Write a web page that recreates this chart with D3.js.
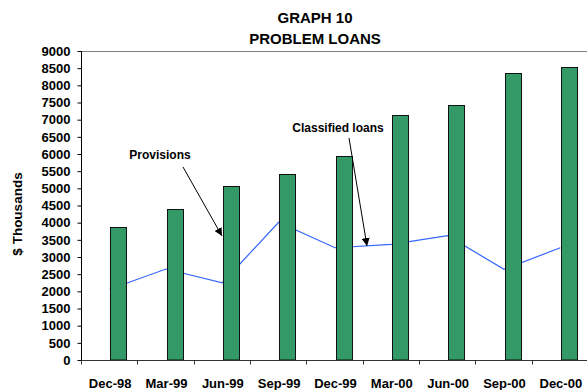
<!DOCTYPE html>
<html>
<head>
<meta charset="utf-8">
<script src="https://cdn.jsdelivr.net/npm/d3@7/dist/d3.min.js"></script>
<style>
  html, body { margin: 0; padding: 0; background: #fff; }
  svg { display: block; }
  text { font-family: "Liberation Sans", Arial, sans-serif; font-weight: bold; fill: #000; }
</style>
</head>
<body>
<svg id="chart" width="587" height="390"></svg>
<script>
// Quarter-end reporting dates
const quarters = ["Dec-98", "Mar-99", "Jun-99", "Sep-99", "Dec-99", "Mar-00", "Jun-00", "Sep-00", "Dec-00"];
// Classified loans ($ thousands) - columns
const classifiedLoans = [3880, 4400, 5070, 5430, 5950, 7130, 7440, 8350, 8540];
// Provisions ($ thousands) - line
const provisions = [2060, 2650, 2250, 4010, 3270, 3370, 3620, 2640, 3270];
// Value axis ticks
const yTicks = d3.range(0, 9001, 500);

const svg = d3.select("#chart");
const plot = { left: 82, right: 589, top: 51, bottom: 360 };

const x = d3.scaleBand().domain(quarters).range([plot.left, plot.right]);
const y = d3.scaleLinear().domain([0, 9000]).range([plot.bottom, plot.top]);
const bw = x.bandwidth();
const barOffset = bw * 0.5;
const barWidth = bw * 0.29;

// Title
const title = svg.append("text")
  .attr("x", 315).attr("text-anchor", "middle")
  .style("font-size", "15px");
title.append("tspan").attr("x", 315).attr("y", 23).text("GRAPH 10");
title.append("tspan").attr("x", 315).attr("y", 44).text("PROBLEM LOANS");

// Plot-area frame (top and right edges)
svg.append("path")
  .attr("d", `M${plot.left},${plot.top + 0.5}H${plot.right - 0.5}V${plot.bottom}`)
  .attr("fill", "none").attr("stroke", "#808080").attr("stroke-width", 1);

// Provisions line, drawn beneath the columns
const line = d3.line()
  .x(d => x(d.q) + barOffset - 0.5)
  .y(d => y(d.v));
svg.append("path")
  .datum(quarters.map((q, i) => ({ q, v: provisions[i] })))
  .attr("d", line)
  .attr("fill", "none")
  .attr("stroke", "#3366FF")
  .attr("stroke-width", 1.2);

// Classified loans columns
svg.append("g").selectAll("rect")
  .data(quarters.map((q, i) => ({ q, v: classifiedLoans[i] })))
  .join("rect")
  .attr("x", d => Math.round(x(d.q) + barOffset) + 0.5)
  .attr("y", d => Math.round(y(d.v)) + 0.5)
  .attr("width", Math.round(barWidth))
  .attr("height", d => plot.bottom - Math.round(y(d.v)) - 0.5)
  .attr("fill", "#339966")
  .attr("stroke", "#111")
  .attr("stroke-width", 1);

// Value axis
const yAxis = svg.append("g")
  .attr("transform", `translate(${plot.left - 0.5},0)`)
  .call(d3.axisLeft(y).tickValues(yTicks).tickFormat(d3.format("d")).tickSize(4).tickPadding(7));
yAxis.select(".domain").attr("stroke", "#000").attr("d", `M0,${plot.top}V${plot.bottom}`);
yAxis.selectAll(".tick line").attr("stroke", "#000");
yAxis.selectAll("text").style("font-size", "13px").attr("fill", "#000");

// Category axis: ticks at category boundaries, labels centred in each category
const xAxisG = svg.append("g").attr("transform", `translate(0,${plot.bottom + 0.5})`);
xAxisG.append("line")
  .attr("x1", plot.left - 1).attr("x2", plot.right)
  .attr("stroke", "#333").attr("stroke-width", 1);
xAxisG.selectAll("line.tk")
  .data(quarters)
  .join("line").attr("class", "tk")
  .attr("x1", d => Math.round(x(d)) - 0.5).attr("x2", d => Math.round(x(d)) - 0.5)
  .attr("y1", 0).attr("y2", 4)
  .attr("stroke", "#333");
xAxisG.selectAll("text")
  .data(quarters)
  .join("text")
  .attr("x", d => x(d) + bw / 2)
  .attr("y", 27)
  .attr("text-anchor", "middle")
  .style("font-size", "13px")
  .text(d => d);

// Value axis title
svg.append("text")
  .attr("transform", "translate(22,214) rotate(-90)")
  .attr("text-anchor", "middle")
  .style("font-size", "13.5px")
  .text("$ Thousands");

// Series call-outs with arrows
svg.append("defs").append("marker")
  .attr("id", "arrowhead")
  .attr("viewBox", "0 0 10 10")
  .attr("refX", 10).attr("refY", 5)
  .attr("markerWidth", 8).attr("markerHeight", 8)
  .attr("markerUnits", "userSpaceOnUse")
  .attr("orient", "auto")
  .append("path").attr("d", "M0,0L10,5L0,10Z").attr("fill", "#000");

const callouts = [
  { label: "Provisions", tx: 160, ty: 159, from: [183, 167], to: [222, 236] },
  { label: "Classified loans", tx: 338, ty: 132, from: [349, 138], to: [367, 246] }
];
callouts.forEach(c => {
  svg.append("text")
    .attr("x", c.tx).attr("y", c.ty)
    .attr("text-anchor", "middle")
    .style("font-size", "12px")
    .text(c.label);
  svg.append("line")
    .attr("x1", c.from[0]).attr("y1", c.from[1])
    .attr("x2", c.to[0]).attr("y2", c.to[1])
    .attr("stroke", "#000").attr("stroke-width", 1)
    .attr("marker-end", "url(#arrowhead)");
});
</script>
</body>
</html>
